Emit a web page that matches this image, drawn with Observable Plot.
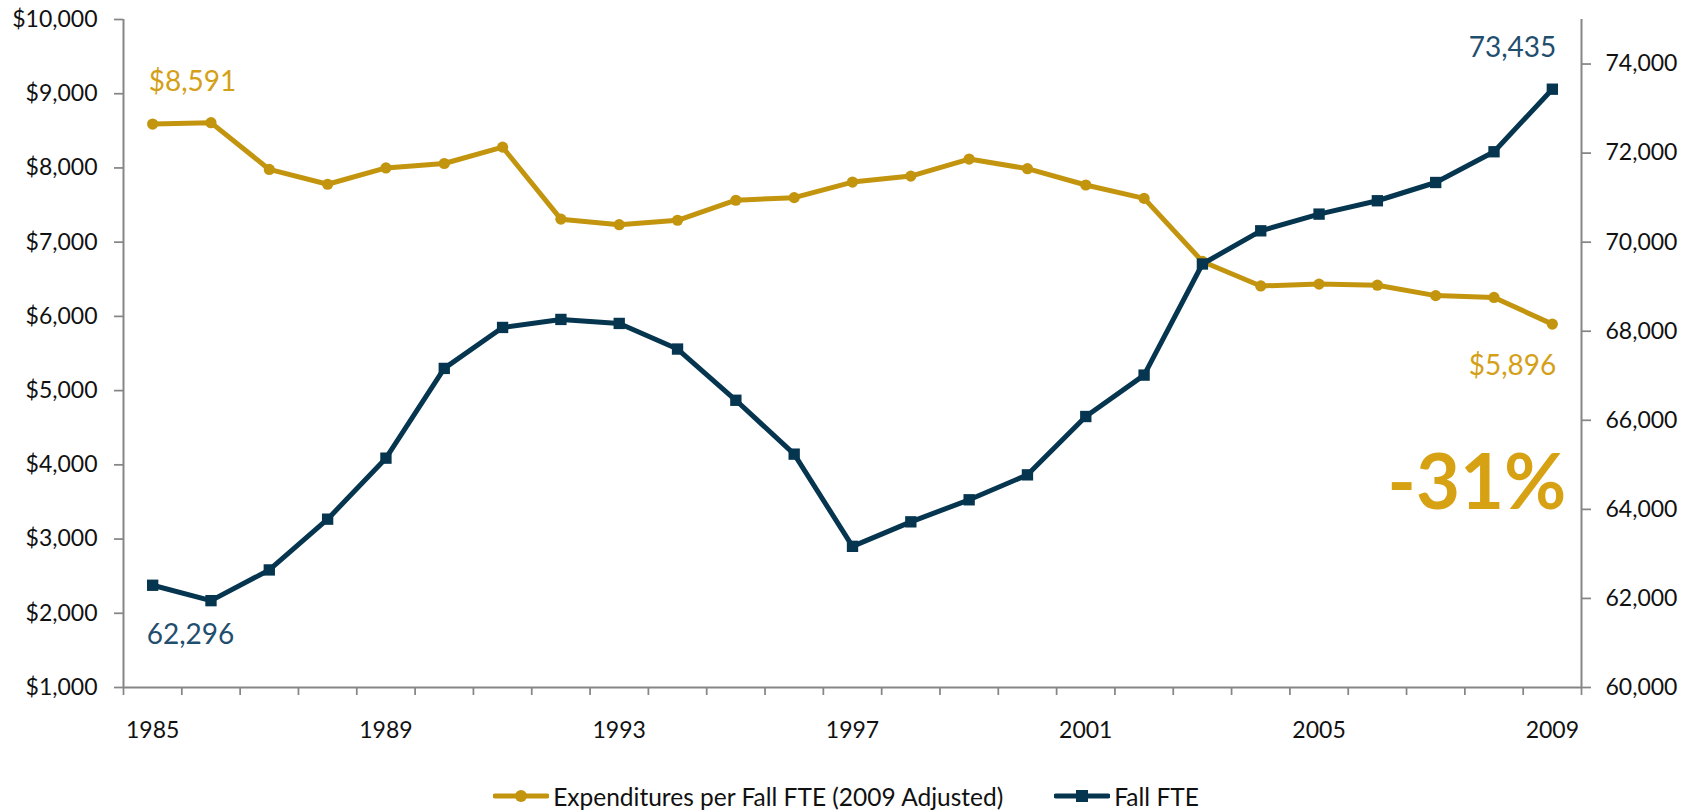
<!DOCTYPE html>
<html><head><meta charset="utf-8">
<script src="https://cdn.jsdelivr.net/npm/d3@7"></script>
<script src="https://cdn.jsdelivr.net/npm/@observablehq/plot@0.6"></script>
<style>
html,body{margin:0;padding:0;background:#fff;overflow:hidden;}
#chart svg{display:block;}
.legend{height:72px;display:flex;justify-content:center;align-items:center;font-family:Lato,"Open Sans",sans-serif;font-size:24.5px;color:#111;}
.item{display:flex;align-items:center;}
.item svg{display:block;}
</style></head><body>
<div id="chart"></div>
<div class="legend" id="legend"></div>
<script>
const years = [1985,1986,1987,1988,1989,1990,1991,1992,1993,1994,1995,1996,1997,1998,1999,2000,2001,2002,2003,2004,2005,2006,2007,2008,2009];
const expenditures = [8591,8610,7980,7780,8000,8060,8280,7310,7235,7295,7565,7600,7810,7890,8120,7990,7770,7590,6740,6410,6435,6420,6280,6255,5896];
const fallFTE = [62296,61950,62640,63780,65150,67165,68085,68265,68175,67600,66450,65240,63170,63720,64215,64775,66085,67015,69510,70255,70630,70930,71340,72030,73435];
const leftTicks = [1000,2000,3000,4000,5000,6000,7000,8000,9000,10000];
const rightTicks = [60000,62000,64000,66000,68000,70000,72000,74000];
const xLabelYears = [1985,1989,1993,1997,2001,2005,2009];
const seriesNames = ["Expenditures per Fall FTE (2009 Adjusted)", "Fall FTE"];

const gold = "#C3950F", navy = "#05354F", goldText = "#D4A017", navyText = "#1F4E6E", bigGold = "#D6A214", axisColor = "#868686";
const font = "Lato, 'Open Sans', sans-serif";

// right axis (FTE 60,000–75,000) mapped onto left axis ($1,000–$10,000)
const fteMin = 60000, fteMax = 75000, leftMin = 1000, leftMax = 10000;
const toLeft = v => leftMin + (v - fteMin) * (leftMax - leftMin) / (fteMax - fteMin);
const fromLeft = v => fteMin + (v - leftMin) * (fteMax - fteMin) / (leftMax - leftMin);

const data = years.map((y, i) => ({year: y, exp: expenditures[i], fte: fallFTE[i]}));
const first = data[0], last = data[data.length - 1];
const boundaries = years.map(y => y - 0.5).concat([years[years.length - 1] + 0.5]);
const xDomain = [boundaries[0], boundaries[boundaries.length - 1]];
const fmtDollar = d3.format("$,");
const fmtNum = d3.format(",");
const pct = Math.round((last.exp / first.exp - 1) * 100);

const chart = Plot.plot({
  width: 1692,
  height: 760,
  marginTop: 19,
  marginBottom: 73,
  marginLeft: 123,
  marginRight: 111,
  style: {fontFamily: font, fontSize: "23px", color: "#111", background: "#fff"},
  x: {type: "linear", domain: xDomain, label: null},
  y: {domain: [leftMin, leftMax], label: null},
  marks: [
    Plot.axisY({ticks: leftTicks, tickFormat: fmtDollar, tickSize: 9, tickPadding: 17, stroke: axisColor, strokeWidth: 1.75, fill: "#111", label: null}),
    Plot.axisY({anchor: "right", ticks: rightTicks.map(toLeft), tickFormat: d => fmtNum(Math.round(fromLeft(d))), tickSize: 9, tickPadding: 15, stroke: axisColor, strokeWidth: 1.75, fill: "#111", label: null}),
    Plot.axisX({ticks: boundaries, tickFormat: () => "", tickSize: 8, stroke: axisColor, strokeWidth: 1.75, label: null}),
    Plot.axisX({ticks: xLabelYears, tickFormat: d => String(d), tickSize: 0, tickPadding: 34, fill: "#111", label: null}),
    Plot.ruleX(xDomain, {stroke: axisColor, strokeWidth: 2}),
    Plot.ruleY([leftMin], {stroke: axisColor, strokeWidth: 2}),
    Plot.line(data, {x: "year", y: "exp", stroke: gold, strokeWidth: 5}),
    Plot.dot(data, {x: "year", y: "exp", r: 5.6, fill: gold, stroke: "none"}),
    Plot.line(data, {x: "year", y: d => toLeft(d.fte), stroke: navy, strokeWidth: 5}),
    Plot.dot(data, {x: "year", y: d => toLeft(d.fte), symbol: "square", r: 6.4, fill: navy, stroke: "none"}),
    Plot.text([first], {x: "year", y: "exp", text: d => fmtDollar(d.exp), textAnchor: "start", dx: -4, dy: -42, fill: goldText, fontSize: 28}),
    Plot.text([first], {x: "year", y: d => toLeft(d.fte), text: d => fmtNum(d.fte), textAnchor: "start", dx: -6, dy: 50, fill: navyText, fontSize: 28}),
    Plot.text([last], {x: "year", y: d => toLeft(d.fte), text: d => fmtNum(d.fte), textAnchor: "end", dx: 4, dy: -41, fill: navyText, fontSize: 28}),
    Plot.text([last], {x: "year", y: "exp", text: d => fmtDollar(d.exp), textAnchor: "end", dx: 4, dy: 42, fill: goldText, fontSize: 28}),
    Plot.text([last], {x: "year", y: "exp", text: () => `${pct}%`, textAnchor: "end", dx: 14, dy: 161, fill: bigGold, fontSize: 76, fontWeight: "bold"})
  ]
});
document.getElementById("chart").appendChild(chart);

// legend
const legend = document.getElementById("legend");
function addItem(name, color, square, gapAfter) {
  const item = document.createElement("div");
  item.className = "item";
  item.style.marginRight = gapAfter + "px";
  const marker = square
    ? `<rect x="22" y="2" width="12" height="12" fill="${color}"/>`
    : `<circle cx="28" cy="8" r="6" fill="${color}"/>`;
  item.innerHTML = `<svg width="56" height="16"><line x1="2" x2="54" y1="8" y2="8" stroke="${color}" stroke-width="5" stroke-linecap="round"/>${marker}</svg><span style="margin-left:4px">${name}</span>`;
  legend.appendChild(item);
}
addItem(seriesNames[0], gold, false, 51);
addItem(seriesNames[1], navy, true, 0);
</script>
</body></html>
